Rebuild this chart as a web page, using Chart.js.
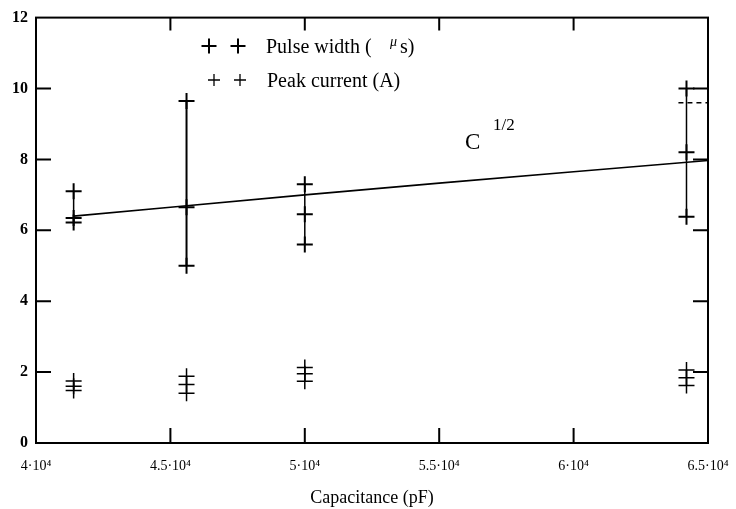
<!DOCTYPE html>
<html>
<head>
<meta charset="utf-8">
<script src="https://cdn.jsdelivr.net/npm/chart.js@4.4.0/dist/chart.umd.min.js"></script>
<style>
html,body{margin:0;padding:0;background:#fff;}
#wrap{width:736px;height:509px;position:relative;}
</style>
</head>
<body>
<div id="wrap"><canvas id="myChart"></canvas></div>
<script>
// values
const capacitance = [41400, 45600, 50000, 64200];
const pulseWidth  = [[7.1, 6.35, 6.22], [9.65, 6.65, 5.0], [7.3, 6.45, 5.6], [10.0, 8.2, 6.38]];
const peakCurrent = [[1.75, 1.6, 1.48], [1.88, 1.65, 1.4], [2.13, 1.95, 1.74], [2.06, 1.84, 1.62]];
const fitC = [41400, 45000, 50000, 55000, 60000, 65000];
const fitY = [6.4, 6.65, 7.0, 7.33, 7.65, 7.97];
const dashC = [63900, 65000];
const dashY = [9.6, 9.6];
const xTicks = [40000, 45000, 50000, 55000, 60000, 65000];
const yTicks = [0, 2, 4, 6, 8, 10, 12];

const serif = "'Liberation Serif', 'DejaVu Serif', serif";

const pwPoints = capacitance.flatMap((c, i) => pulseWidth[i].map(v => ({x: c, y: v})));
const pcPoints = capacitance.flatMap((c, i) => peakCurrent[i].map(v => ({x: c, y: v})));

function rangeSet(c, vals, w) {
  return {
    data: [{x: c, y: Math.max(...vals)}, {x: c, y: Math.min(...vals)}],
    showLine: true, borderColor: '#000', borderWidth: w, pointRadius: 0
  };
}

const datasets = [];
capacitance.forEach((c, i) => {
  datasets.push(rangeSet(c, pulseWidth[i], i == 1 ? 2 : 1.5));
  datasets.push(rangeSet(c, peakCurrent[i], 1.3));
});
datasets.push({
  data: fitC.map((c, i) => ({x: c, y: fitY[i]})),
  showLine: true, borderColor: '#000', borderWidth: 1.6, pointRadius: 0
});
datasets.push({
  data: dashC.map((c, i) => ({x: c, y: dashY[i]})),
  showLine: true, borderColor: '#000', borderWidth: 1.6, borderDash: [5, 4], pointRadius: 0
});
datasets.push({
  data: pwPoints, pointStyle: 'cross', pointRadius: 8, pointBorderWidth: 2,
  borderColor: '#000', backgroundColor: '#000', showLine: false
});
datasets.push({
  data: pcPoints, pointStyle: 'cross', pointRadius: 8, pointBorderWidth: 1.5,
  borderColor: '#000', backgroundColor: '#000', showLine: false
});

function plus(ctx, x, y, r, lw) {
  ctx.lineWidth = lw;
  ctx.beginPath();
  ctx.moveTo(x - r, y); ctx.lineTo(x + r, y);
  ctx.moveTo(x, y - r); ctx.lineTo(x, y + r);
  ctx.stroke();
}

const framePlugin = {
  id: 'frame',
  afterDraw(chart) {
    const {ctx, chartArea: a, scales: {x, y}} = chart;
    ctx.save();
    ctx.strokeStyle = '#000';
    ctx.fillStyle = '#000';
    ctx.lineWidth = 2;
    ctx.strokeRect(a.left, a.top, a.width, a.height);
    // inward tick marks on all four sides
    ctx.beginPath();
    yTicks.slice(1, -1).forEach(v => {
      const py = y.getPixelForValue(v);
      ctx.moveTo(a.left, py); ctx.lineTo(a.left + 15, py);
      ctx.moveTo(a.right, py); ctx.lineTo(a.right - 15, py);
    });
    xTicks.slice(1, -1).forEach(v => {
      const px = x.getPixelForValue(v);
      ctx.moveTo(px, a.bottom); ctx.lineTo(px, a.bottom - 15);
      ctx.moveTo(px, a.top); ctx.lineTo(px, a.top + 13);
    });
    ctx.stroke();

    // legend
    plus(ctx, 209, 46, 7.5, 2);
    plus(ctx, 238, 46, 7.5, 2);
    plus(ctx, 214, 80, 6, 1.3);
    plus(ctx, 240, 80, 6, 1.3);
    ctx.textAlign = 'left';
    ctx.textBaseline = 'alphabetic';
    ctx.font = '20px ' + serif;
    ctx.fillText('Pulse width (', 266, 53);
    ctx.font = 'italic 14px ' + serif;
    ctx.fillText('\u03bc', 390, 46);
    ctx.font = '20px ' + serif;
    ctx.fillText('s)', 400, 53);
    ctx.fillText('Peak current (A)', 267, 87);

    // fit label
    ctx.font = '23px ' + serif;
    ctx.fillText('C', 465, 149);
    ctx.font = '17px ' + serif;
    ctx.fillText('1/2', 493, 130);
    ctx.restore();
  }
};

new Chart(document.getElementById('myChart'), {
  type: 'scatter',
  data: {datasets: datasets},
  plugins: [framePlugin],
  options: {
    responsive: true,
    maintainAspectRatio: false,
    animation: false,
    layout: {padding: {top: 14, right: 28, left: 0, bottom: 0}},
    plugins: {legend: {display: false}, tooltip: {enabled: false}},
    scales: {
      x: {
        type: 'linear', min: 40000, max: 65000,
        afterBuildTicks: s => { s.ticks = xTicks.map(v => ({value: v})); },
        afterFit: s => { s.height = 66; s.paddingLeft = 0; s.paddingRight = 0; },
        grid: {display: false, drawTicks: false},
        border: {display: false},
        ticks: {
          color: '#000', padding: 15, autoSkip: false, maxRotation: 0,
          font: {family: serif, size: 14},
          callback: v => (v / 10000) + '\u00b710\u2074'
        },
        title: {
          display: true, text: 'Capacitance (pF)', color: '#000',
          font: {family: serif, size: 18}, padding: 0
        }
      },
      y: {
        min: 0, max: 12,
        afterBuildTicks: s => { s.ticks = yTicks.map(v => ({value: v})); },
        afterFit: s => { s.width = 36; },
        grid: {display: false, drawTicks: false},
        border: {display: false},
        ticks: {color: '#000', padding: 8, font: {family: serif, size: 16, weight: 'bold'}}
      }
    }
  }
});
</script>
</body>
</html>
